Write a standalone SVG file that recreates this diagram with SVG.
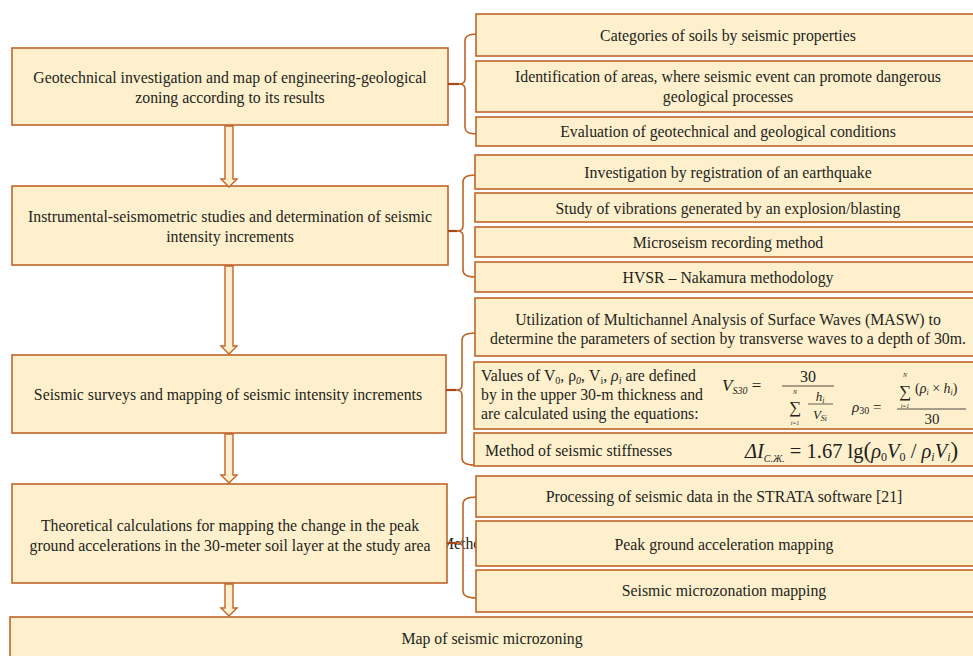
<svg xmlns="http://www.w3.org/2000/svg" width="973" height="656" viewBox="0 0 973 656">
<style>
.box{fill:#FEF0CD;stroke:#C0652A;stroke-width:1.6}
.t{font-family:"Liberation Serif","Times New Roman",serif;font-size:15.8px;fill:#231F20}
.c{text-anchor:middle}
.f{font-family:"Liberation Serif","Times New Roman",serif;fill:#231F20;font-style:italic}
.n{font-style:normal}
.br{fill:none;stroke:#C0652A;stroke-width:1.6}
.stub{stroke:#A8471A;stroke-width:2.2}
.arr{fill:#FEF0CD;stroke:#C0652A;stroke-width:1.4}
</style>
<rect width="973" height="656" fill="#ffffff"/>

<text class="t" x="440" y="549">Method</text>

<g id="n1"><rect class="box" x="12" y="48" width="436" height="77"/>
<text class="t c" x="230" y="83">Geotechnical investigation and map of engineering-geological</text>
<text class="t c" x="230" y="103">zoning according to its results</text></g>
<g id="n2"><rect class="box" x="12" y="186" width="436" height="79"/>
<text class="t c" x="230" y="222">Instrumental-seismometric studies and determination of seismic</text>
<text class="t c" x="230" y="242">intensity increments</text></g>
<g id="n3"><rect class="box" x="12" y="355" width="434" height="78"/>
<text class="t c" x="228" y="400">Seismic surveys and mapping of seismic intensity increments</text></g>
<g id="n4"><rect class="box" x="12" y="484" width="435" height="99"/>
<text class="t c" x="230" y="531">Theoretical calculations for mapping the change in the peak</text>
<text class="t c" x="230" y="551">ground accelerations in the 30-meter soil layer at the study area</text></g>
<g id="n5"><rect class="box" x="10" y="617" width="975" height="50"/>
<text class="t c" x="492" y="644">Map of seismic microzoning</text></g>

<g id="r1a"><rect class="box" x="476" y="14" width="510" height="42"/>
<text class="t c" x="728" y="41">Categories of soils by seismic properties</text></g>
<g id="r1b"><rect class="box" x="476" y="61" width="510" height="51"/>
<text class="t c" x="728" y="82">Identification of areas, where seismic event can promote dangerous</text>
<text class="t c" x="728" y="102">geological processes</text></g>
<g id="r1c"><rect class="box" x="476" y="117" width="510" height="29"/>
<text class="t c" x="728" y="137">Evaluation of  geotechnical and geological conditions</text></g>

<g id="r2a"><rect class="box" x="475" y="155" width="510" height="34"/>
<text class="t c" x="728" y="178">Investigation by registration of an earthquake</text></g>
<g id="r2b"><rect class="box" x="475" y="193" width="510" height="29"/>
<text class="t c" x="728" y="214">Study of vibrations generated by an explosion/blasting</text></g>
<g id="r2c"><rect class="box" x="475" y="227" width="510" height="30"/>
<text class="t c" x="728" y="248">Microseism recording method</text></g>
<g id="r2d"><rect class="box" x="475" y="262" width="510" height="30"/>
<text class="t c" x="728" y="283">HVSR – Nakamura methodology</text></g>

<g id="r3a"><rect class="box" x="475" y="298" width="510" height="58"/>
<text class="t c" x="728" y="325">Utilization of Multichannel Analysis of Surface Waves (MASW) to</text>
<text class="t c" x="728" y="344">determine the parameters of section by transverse waves to a depth of 30m.</text></g>
<g id="r3b"><rect class="box" x="474" y="362" width="511" height="67"/>
<text class="t" x="481" y="381">Values of V<tspan font-size="10" dy="3">0</tspan><tspan dy="-3">, ρ</tspan><tspan font-size="10" dy="3" font-style="italic">0</tspan><tspan dy="-3">, V</tspan><tspan font-size="10" dy="3">i</tspan><tspan dy="-3">, </tspan><tspan font-style="italic">ρ</tspan><tspan font-size="10" dy="3" font-style="italic">i</tspan><tspan dy="-3"> are defined</tspan></text>
<text class="t" x="481" y="400">by in the upper 30-m thickness and</text>
<text class="t" x="481" y="419">are calculated using the equations:</text>
<text class="f" x="722" y="391" font-size="17">V<tspan font-size="10" dy="3">S30</tspan><tspan class="n" dy="-3"> =</tspan></text>
<text class="f n" x="808" y="382" font-size="16" text-anchor="middle">30</text>
<line x1="782" y1="386" x2="834" y2="386" stroke="#231F20" stroke-width="0.8"/>
<text class="f" x="795" y="394" font-size="6" text-anchor="middle">N</text>
<text class="f n" x="795" y="413" font-size="17" text-anchor="middle">∑</text>
<text class="f" x="795" y="425" font-size="6" text-anchor="middle">i=1</text>
<text class="f" x="820" y="401" font-size="13" text-anchor="middle">h<tspan font-size="8" dy="2">i</tspan></text>
<line x1="808" y1="404" x2="833" y2="404" stroke="#231F20" stroke-width="0.7"/>
<text class="f" x="820" y="419" font-size="13" text-anchor="middle">V<tspan font-size="8" dy="2">Si</tspan></text>
<text class="f" x="852" y="412" font-size="15">ρ<tspan class="n" font-size="10" dy="2">30</tspan><tspan class="n" dy="-2"> =</tspan></text>
<text class="f" x="905" y="377" font-size="6" text-anchor="middle">N</text>
<text class="f n" x="905" y="397" font-size="17" text-anchor="middle">∑</text>
<text class="f" x="905" y="408" font-size="6" text-anchor="middle">i=1</text>
<text class="f" x="915" y="393" font-size="14"><tspan class="n">(</tspan>ρ<tspan font-size="8" dy="2">i</tspan><tspan class="n" dy="-2"> × </tspan>h<tspan font-size="8" dy="2">i</tspan><tspan class="n" dy="-2">)</tspan></text>
<line x1="897" y1="409" x2="966" y2="409" stroke="#231F20" stroke-width="0.8"/>
<text class="f n" x="932" y="424" font-size="15" text-anchor="middle">30</text></g>
<g id="r3c"><rect class="box" x="474" y="433" width="511" height="33"/>
<text class="t" x="485" y="456">Method of seismic stiffnesses</text>
<text class="f" x="745" y="458" font-size="20.5">ΔI<tspan font-size="10" dy="4">С.Ж.</tspan><tspan class="n" dy="-4"> = 1.67</tspan><tspan class="n"> lg</tspan><tspan class="n" font-size="23">(</tspan>ρ<tspan class="n" font-size="12" dy="3">0</tspan><tspan dy="-3">V</tspan><tspan class="n" font-size="12" dy="3">0</tspan><tspan class="n" dy="-3"> / </tspan>ρ<tspan font-size="12" dy="3">i</tspan><tspan dy="-3">V</tspan><tspan font-size="12" dy="3">i</tspan><tspan class="n" font-size="23" dy="-3">)</tspan></text></g>

<g id="r4a"><rect class="box" x="476" y="476" width="510" height="41"/>
<text class="t c" x="724" y="502">Processing of seismic data in the STRATA software [21]</text></g>
<g id="r4b"><rect class="box" x="476" y="521" width="510" height="45"/>
<text class="t c" x="724" y="550">Peak ground acceleration mapping</text></g>
<g id="r4c"><rect class="box" x="476" y="570" width="510" height="42"/>
<text class="t c" x="724" y="596">Seismic microzonation mapping</text></g>

<g id="connectors">
<path class="br" d="M476,34 Q465,34 465,41 L465,79 Q465,84 459,84 Q465,84 465,89 L465,127 Q465,134 476,134"/>
<line class="stub" x1="448" y1="84" x2="459" y2="84"/>
<path class="br" d="M475,175 Q463,175 463,182 L463,226 Q463,231 457,231 Q463,231 463,236 L463,270 Q463,277 475,277"/>
<line class="stub" x1="448" y1="231" x2="457" y2="231"/>
<path class="br" d="M475,333 Q462,333 462,340 L462,385 Q462,390 456,390 Q462,390 462,395 L462,458 Q462,465 474,465"/>
<line class="stub" x1="446" y1="390" x2="456" y2="390"/>
<path class="br" d="M476,497 Q463,497 463,504 L463,538 Q463,543 457,543 Q463,543 463,548 L463,591 Q463,598 476,598"/>
<line class="stub" x1="447" y1="543" x2="457" y2="543"/>
<path class="arr" d="M225,126 L233,126 L233,179 L237,179 L229,187 L221,179 L225,179 Z"/>
<path class="arr" d="M225,266 L233,266 L233,346 L237,346 L229,354 L221,346 L225,346 Z"/>
<path class="arr" d="M225,434 L233,434 L233,475 L237,475 L229,483 L221,475 L225,475 Z"/>
<path class="arr" d="M225,584 L233,584 L233,608 L237,608 L229,616 L221,608 L225,608 Z"/>
</g>
</svg>
